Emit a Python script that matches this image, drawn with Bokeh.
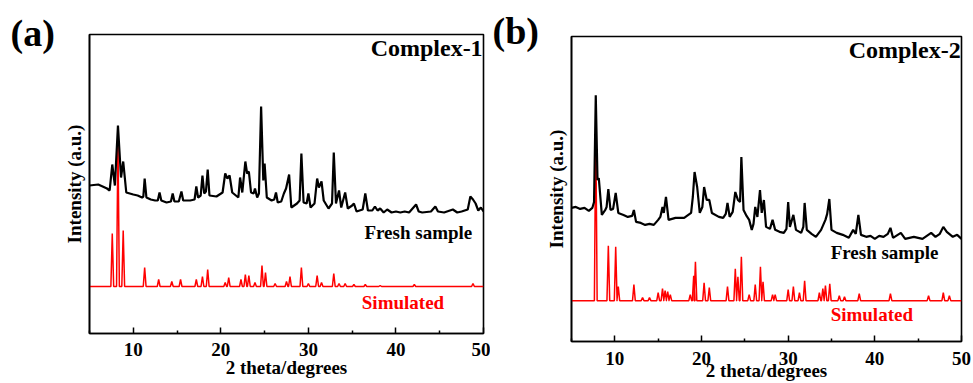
from bokeh.plotting import figure
from bokeh.models import Range1d, Label, FixedTicker
from bokeh.core.properties import value
from bokeh.layouts import row, column
from bokeh.embed import file_html
from bokeh.resources import INLINE

# ---------------- data ----------------
# Panel (a) Complex-1, fresh sample (measured pattern, arbitrary units)
fresh1_x = [5, 6, 6.5, 7, 7.3, 7.6, 7.9, 8.25, 8.6, 8.85, 9.2, 9.6, 10, 10.5, 11, 11.15, 11.3, 11.5, 12, 12.5,
            12.8, 13, 13.2, 13.8, 14.3, 14.5, 14.7, 15.2, 15.5, 15.7, 16.5, 17, 17.2, 17.4, 17.7, 17.9, 18.1, 18.3,
            18.5, 18.7, 19.5, 20.2, 20.5, 20.75, 21.0, 21.3, 22, 22.2, 22.45, 22.8, 23.0, 23.2, 23.45, 23.75, 23.9,
            24.15, 24.35, 24.6, 24.85, 25.0, 25.25, 25.8, 26.1, 26.3, 26.5, 26.9, 27.2, 27.45, 27.8, 28.05, 28.7,
            29.0, 29.2, 29.45, 29.8, 30.0, 30.25, 30.7, 31.0, 31.2, 31.5, 31.75, 32.3, 32.7, 32.9, 33.15, 33.5,
            33.75, 34.2, 34.5, 35.0, 35.2, 35.5, 36.2, 36.5, 36.8, 37.3, 37.6, 37.9, 38.2, 38.6, 39, 39.5, 40,
            40.5, 41, 41.5, 42.0, 42.3, 42.6, 43, 44, 44.5, 44.8, 45.5, 46.5, 47, 47.5, 48.2, 48.5, 48.8, 49.1,
            49.4, 49.7, 50]
fresh1_y = [148, 149, 147, 145, 143, 169, 148, 208, 156, 172, 141, 140, 139, 138, 136, 137, 155, 136, 134, 133,
            133, 141, 133, 131, 132, 140, 132, 132, 142, 133, 133, 134, 147, 136, 138, 158, 140, 142,
            164, 138, 137, 141, 160, 155, 158, 141, 136, 156, 141, 172, 160, 162, 141, 140, 145,
            136, 140, 227, 153, 170, 136, 133, 134, 141, 131, 132, 140, 145, 159, 126, 130,
            133, 180, 131, 130, 140, 126, 130, 155, 146, 152, 133, 125, 130, 181, 130, 143,
            126, 141, 125, 128, 130, 122, 124, 140, 123, 123, 127, 123, 125, 121, 124, 121, 122,
            121, 122, 121, 126, 129, 122, 121, 122, 127, 122, 121, 124, 121, 122, 124, 137, 134, 130,
            123, 126, 122]

# Panel (a) simulated pattern: peak positions and apex heights, flat background
sim1_base = 47
sim1_peak_x = [7.6, 8.25, 8.85, 11.3, 12.9, 14.4, 15.4, 17.2, 17.9, 18.5, 20.5, 20.9, 22.3, 22.8, 23.2, 23.9,
               24.7, 25.1, 26.2, 27.5, 27.9, 29.2, 30.0, 31.0, 31.5, 32.9, 33.5, 34.2, 35.2, 36.5, 38.2, 42.1, 48.8]
sim1_peak_y = [100, 196, 103, 66, 54, 52, 54, 54, 57, 64, 51, 56, 54, 59, 58, 51,
               68, 61, 50, 52, 57, 66, 50, 58, 51, 60, 50, 50, 49, 49, 48, 49, 50]

# Panel (b) Complex-2, fresh sample
fresh2_x = [5, 5.5, 6, 6.5, 7, 7.4, 7.6, 7.8, 8.0, 8.15, 8.5, 8.9, 9.05, 9.25, 9.5, 9.8, 10.1, 10.4, 11, 11.5,
            12.0, 12.2, 12.45, 13, 13.5, 14, 14.5, 15.0, 15.25, 15.5, 15.65, 15.9, 16.2, 17, 18, 18.8, 19.0, 19.2,
            19.5, 19.8, 20.1, 20.3, 20.6, 20.9, 21.2, 22, 22.5, 22.8, 23.0, 23.25, 23.6, 23.9, 24.2, 24.45, 24.6,
            24.85, 25.2, 25.5, 25.8, 26.0, 26.2, 26.45, 26.75, 26.95, 27.2, 27.45, 27.9, 28.2, 28.5, 29.0, 29.5,
            29.8, 30.0, 30.2, 30.6, 30.9, 31.5, 31.75, 31.9, 32.15, 32.7, 33.2, 33.8, 34.3, 34.5, 34.75, 35.0,
            35.6, 36.3, 37.0, 37.5, 37.8, 38.1, 38.4, 39, 39.5, 40, 40.5, 41, 41.5, 41.8, 42.1, 43, 43.5, 44.5,
            45.5, 46.5, 47, 47.5, 47.9, 48.3, 49, 49.5, 50]
fresh2_y = [134, 135, 133, 134, 131, 134, 140, 247, 162, 164, 127, 132, 135, 153, 132, 133, 149, 129, 127, 125,
            126, 132, 120, 119, 117, 118, 117, 122, 125, 135, 129, 145, 122, 124, 124, 129, 145, 170,
            155, 129, 135, 155, 142, 142, 129, 125, 124, 128, 139, 125, 130, 150, 142, 140, 185,
            132, 126, 122, 112, 118, 135, 125, 152, 129, 142, 115, 113, 122, 112, 110, 109,
            113, 140, 115, 127, 112, 109, 115, 139, 112, 108, 105, 112, 122, 128, 143, 112,
            109, 107, 104, 112, 108, 127, 107, 105, 106, 103, 106, 105, 108, 114, 104, 109, 103, 105,
            103, 109, 105, 108, 115, 110, 105, 107, 103]

# Panel (b) simulated pattern
sim2_base = 41
sim2_peak_x = [7.8, 9.25, 10.1, 10.4, 12.2, 13.2, 14.0, 15.0, 15.5, 15.8, 16.1, 16.4, 18.7, 19.1, 19.3, 20.3,
               20.9, 23.0, 23.9, 24.2, 24.6, 25.5, 26.2, 26.8, 27.1, 28.2, 28.5, 30.0, 30.6, 31.3, 31.9, 33.6,
               34.0, 34.3, 34.8, 35.9, 36.5, 38.2, 41.8, 46.2, 47.9, 48.6]
sim2_peak_y = [217, 96, 95, 55, 57, 44, 44, 49, 53, 51, 50, 47, 47, 66, 80, 59,
               54, 55, 73, 65, 85, 47, 57, 75, 60, 47, 47, 52, 55, 49, 61, 49,
               53, 56, 58, 46, 45, 48, 48, 46, 49, 46]

x_ticks = [10, 20, 30, 40, 50]
x_minor = [5, 15, 25, 35, 45]
panel_tags = ["(a)", "(b)"]

SERIF = "Liberation Serif"


def peaks_to_line(px, py, base, half):
    xs, ys = [5.0], [base]
    for x, y in zip(px, py):
        xs += [x - half, x, x + half]
        ys += [base, y, base]
    xs.append(50.0)
    ys.append(base)
    return xs, ys


def tag_figure(width, tag, tx, ty):
    f = figure(width=width, height=383, x_range=Range1d(0, width), y_range=Range1d(0, 383),
               output_backend="svg", toolbar_location=None, title=None,
               x_axis_location=None, y_axis_location=None,
               min_border=0, min_border_left=0, min_border_right=0, min_border_top=0, min_border_bottom=0)
    f.grid.visible = False
    f.outline_line_color = None
    f.text(x=[tx], y=[ty], text=[tag], text_font=value(SERIF), text_font_style="bold",
           text_font_size="38px", text_color="black", text_align="left", text_baseline="middle")
    return f


def make_panel(width, bl, br, bt, bb, ymax, fresh_x, fresh_y, sim, name, name_y,
               fresh_xy, sim_xy, label_standoff, title_standoff):
    p = figure(width=width, height=383, x_range=Range1d(5, 50), y_range=Range1d(0, ymax),
               output_backend="svg", toolbar_location=None,
               min_border_left=bl, min_border_right=br, min_border_top=bt, min_border_bottom=bb)
    p.grid.visible = False
    p.background_fill_color = "white"
    p.border_fill_color = None
    p.outline_line_color = "black"
    p.outline_line_width = 1.6

    xa = p.xaxis[0]
    xa.ticker = FixedTicker(ticks=x_ticks, minor_ticks=x_minor)
    xa.major_tick_in = 6
    xa.major_tick_out = 0
    xa.minor_tick_in = 3
    xa.minor_tick_out = 0
    xa.axis_line_width = 1.6
    xa.major_tick_line_width = 1.5
    xa.minor_tick_line_width = 1.5
    xa.major_label_text_font = SERIF
    xa.major_label_text_font_style = "bold"
    xa.major_label_text_font_size = "19px"
    xa.major_label_text_color = "black"
    xa.major_label_standoff = label_standoff
    xa.axis_label = "2 theta/degrees"
    xa.axis_label_text_font = SERIF
    xa.axis_label_text_font_style = "bold"
    xa.axis_label_text_font_size = "19px"
    xa.axis_label_text_color = "black"
    xa.axis_label_standoff = title_standoff

    ya = p.yaxis[0]
    ya.ticker = FixedTicker(ticks=[])
    ya.axis_line_width = 1.6
    ya.major_tick_line_color = None
    ya.minor_tick_line_color = None
    ya.axis_label = "Intensity (a.u.)"
    ya.axis_label_text_font = SERIF
    ya.axis_label_text_font_style = "bold"
    ya.axis_label_text_font_size = "19px"
    ya.axis_label_text_color = "black"
    ya.axis_label_standoff = 5

    sx, sy = peaks_to_line(*sim, half=0.16)
    p.line(sx, sy, line_color="#ff0000", line_width=1.5)
    p.line(fresh_x, fresh_y, line_color="black", line_width=2.2)

    def lab(text, x, y, size, color="black", align="left"):
        p.add_layout(Label(x=x, y=y, text=text, text_font=SERIF, text_font_style="bold",
                           text_font_size=size, text_color=color, text_align=align,
                           text_baseline="middle"))

    lab(name, 49.9, name_y, "24px", align="right")
    lab("Fresh sample", fresh_xy[0], fresh_xy[1], "19px")
    lab("Simulated", sim_xy[0], sim_xy[1], "19px", color="#ff0000")
    return p


fa = tag_figure(60, panel_tags[0], 10, 383 - 32)
p1 = make_panel(430, 28, 7, 34, 50, 299, fresh1_x, fresh1_y,
                (sim1_peak_x, sim1_peak_y, sim1_base), "Complex-1", 286,
                (36.4, 101), (36.1, 31), 9, -2)
fb = tag_figure(52, panel_tags[1], 2, 383 - 30)
p2 = make_panel(431, 26, 12, 36, 41, 306, fresh2_x, fresh2_y,
                (sim2_peak_x, sim2_peak_y, sim2_base), "Complex-2", 292,
                (34.9, 89), (34.9, 27), 10, -8)

layout = row(column(fa), column(p1), column(fb), column(p2), spacing=0)
open("out.html", "w").write(file_html(layout, INLINE))
